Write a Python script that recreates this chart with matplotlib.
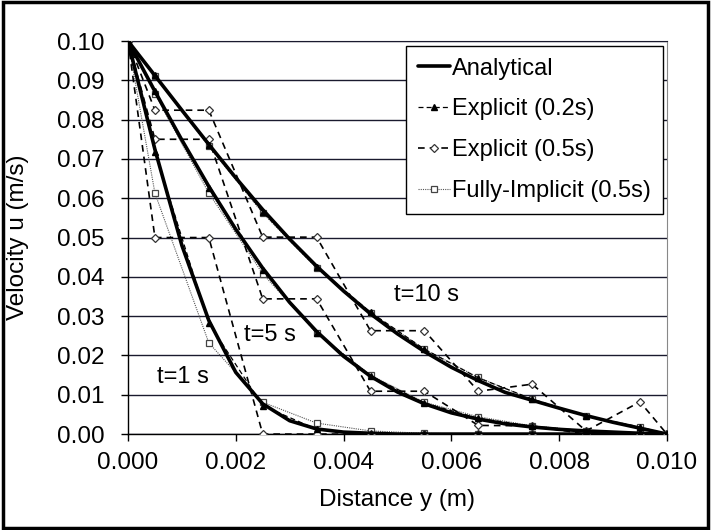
import matplotlib.pyplot as plt
from matplotlib.patches import Rectangle

plt.rcParams['font.family'] = ['Liberation Sans', 'DejaVu Sans']

# analytical solution, read at 0.0005 m spacing
y_fine = [0.0, 0.0005, 0.001, 0.0015, 0.002, 0.0025, 0.003, 0.0035, 0.004, 0.0045, 0.005,
          0.0055, 0.006, 0.0065, 0.007, 0.0075, 0.008, 0.0085, 0.009, 0.0095, 0.01]
ana_t1 = [0.1, 0.0724, 0.048, 0.0289, 0.0157, 0.0077, 0.0034, 0.0013, 0.0005, 0.0002, 0.0,
          0.0, 0.0, 0.0, 0.0, 0.0, 0.0, 0.0, 0.0, 0.0, 0.0]
ana_t5 = [0.1, 0.0872, 0.0748, 0.063, 0.0521, 0.0422, 0.0335, 0.0261, 0.0198, 0.0147, 0.0107,
          0.0077, 0.0054, 0.0038, 0.0026, 0.0018, 0.0012, 0.0008, 0.0005, 0.0002, 0.0]
ana_t10 = [0.1, 0.0912, 0.0824, 0.0737, 0.0652, 0.0571, 0.0496, 0.0427, 0.0364, 0.0306, 0.0255,
           0.021, 0.017, 0.0136, 0.0106, 0.0086, 0.0066, 0.0047, 0.003, 0.0015, 0.0]

# numerical solutions at cell centres
y_cells = [0.0, 0.0005, 0.0015, 0.0025, 0.0035, 0.0045, 0.0055, 0.0065, 0.0075, 0.0085, 0.0095, 0.01]
exp02_t1 = [0.1, 0.0718, 0.0282, 0.0072, 0.0012, 0.0001, 0.0, 0.0, 0.0, 0.0, 0.0, 0.0]
exp02_t5 = [0.1, 0.0872, 0.0625, 0.0418, 0.0257, 0.0148, 0.0079, 0.004, 0.002, 0.0008, 0.0002, 0.0]
exp02_t10 = [0.1, 0.0913, 0.0735, 0.0565, 0.0425, 0.031, 0.0216, 0.0143, 0.0089, 0.0046, 0.0018, 0.0]

exp05_t1 = [0.1, 0.05, 0.05, 0.0, 0.0, 0.0, 0.0, 0.0, 0.0, 0.0, 0.0, 0.0]
exp05_t5 = [0.1, 0.075, 0.075, 0.0344, 0.0344, 0.0109, 0.0109, 0.0022, 0.0021, 0.0, 0.0, 0.0]
exp05_t10 = [0.1, 0.0824, 0.0824, 0.0501, 0.0501, 0.0263, 0.0263, 0.0109, 0.0127, 0.0008, 0.0082, 0.0]

imp_t1 = [0.1, 0.0613, 0.0232, 0.0081, 0.0028, 0.0008, 0.0002, 0.0, 0.0, 0.0, 0.0, 0.0]
imp_t5 = [0.1, 0.0865, 0.0613, 0.0408, 0.0257, 0.015, 0.0081, 0.0044, 0.0021, 0.0008, 0.0002, 0.0]
imp_t10 = [0.1, 0.091, 0.0732, 0.0562, 0.0422, 0.0308, 0.0216, 0.0144, 0.0088, 0.0046, 0.0017, 0.0]

x_ticks = [0.0, 0.002, 0.004, 0.006, 0.008, 0.010]
y_ticks = [0.0, 0.01, 0.02, 0.03, 0.04, 0.05, 0.06, 0.07, 0.08, 0.09, 0.10]

fig = plt.figure(figsize=(7.11, 5.30), dpi=100)
ax = fig.add_axes([0.180, 0.181, 0.758, 0.7416])

fs = 17.5      # tick / axis labels
fs_leg = 17    # legend
fs_ann = 17    # t= labels

ana_style = dict(color='black', lw=2.6, solid_capstyle='round')
e02_style = dict(color='black', lw=0.9, ls=(0, (4, 2.5)), marker='^', ms=5,
                 mfc='black', mec='black')
e05_style = dict(color='black', lw=1.2, ls=(0, (4, 3)), marker='D', ms=4.5,
                 mfc='white', mec='#333333', mew=0.9)
imp_style = dict(color='#555555', lw=0.8, ls=(0, (1, 1)), marker='s', ms=5,
                 mfc='white', mec='#444444', mew=0.9)

for vals in [imp_t1, imp_t5, imp_t10]:
    ax.plot(y_cells, vals, zorder=3, **imp_style)
for vals in [exp05_t1, exp05_t5, exp05_t10]:
    ax.plot(y_cells, vals, zorder=4, **e05_style)
for vals in [exp02_t1, exp02_t5, exp02_t10]:
    ax.plot(y_cells, vals, zorder=5, **e02_style)
for vals in [ana_t1, ana_t5, ana_t10]:
    ax.plot(y_fine, vals, zorder=6, **ana_style)

# legend handles
h_ana, = ax.plot([], [], **ana_style)
h_e02, = ax.plot([], [], **e02_style)
h_e05, = ax.plot([], [], **e05_style)
h_imp, = ax.plot([], [], **imp_style)
leg = ax.legend([h_ana, h_e02, h_e05, h_imp],
                ['Analytical', 'Explicit (0.2s)', 'Explicit (0.5s)', 'Fully-Implicit (0.5s)'],
                loc='upper right', bbox_to_anchor=(0.992, 0.988), fontsize=fs_leg,
                frameon=True, fancybox=False, edgecolor='black', framealpha=1,
                handlelength=1.35, handletextpad=0.1, labelspacing=0.8,
                borderpad=0.5, borderaxespad=0)
leg.get_frame().set_linewidth(1.0)
leg.set_zorder(10)

ax.text(0.00102, 0.0145, 't=1 s', fontsize=fs_ann, ha='center', va='center', zorder=7)
ax.text(0.00263, 0.0252, 't=5 s', fontsize=fs_ann, ha='center', va='center', zorder=7)
ax.text(0.00553, 0.0354, 't=10 s', fontsize=fs_ann, ha='center', va='center', zorder=7)

ax.set_xlim(0, 0.010)
ax.set_ylim(0, 0.10)
ax.set_xticks(x_ticks)
ax.set_yticks(y_ticks)
ax.set_xticklabels(['%.3f' % v for v in x_ticks])
ax.set_yticklabels(['%.2f' % v for v in y_ticks])
ax.tick_params(axis='both', direction='out', length=5, width=1, labelsize=fs,
               colors='black')
ax.tick_params(axis='y', pad=12)
ax.tick_params(axis='x', pad=8)

ax.yaxis.grid(True, color='#1a1a2e', lw=1.0)
ax.set_axisbelow(True)
for side in ['left', 'bottom']:
    ax.spines[side].set_color('black')
    ax.spines[side].set_linewidth(1.0)
ax.spines['top'].set_color('#1a1a2e')
ax.spines['right'].set_color('#888888')

ax.set_xlabel('Distance y (m)', fontsize=fs)
ax.set_ylabel('Velocity u (m/s)', fontsize=fs)
ax.xaxis.set_label_coords(0.5, -0.14)
ax.yaxis.set_label_coords(-0.184, 0.5)

# outer chart border
fig.patches.append(Rectangle((0.004, 0.004), 0.992, 0.992, transform=fig.transFigure,
                             fill=False, edgecolor='black', lw=2.5))

fig.savefig('out.png', dpi=100)
